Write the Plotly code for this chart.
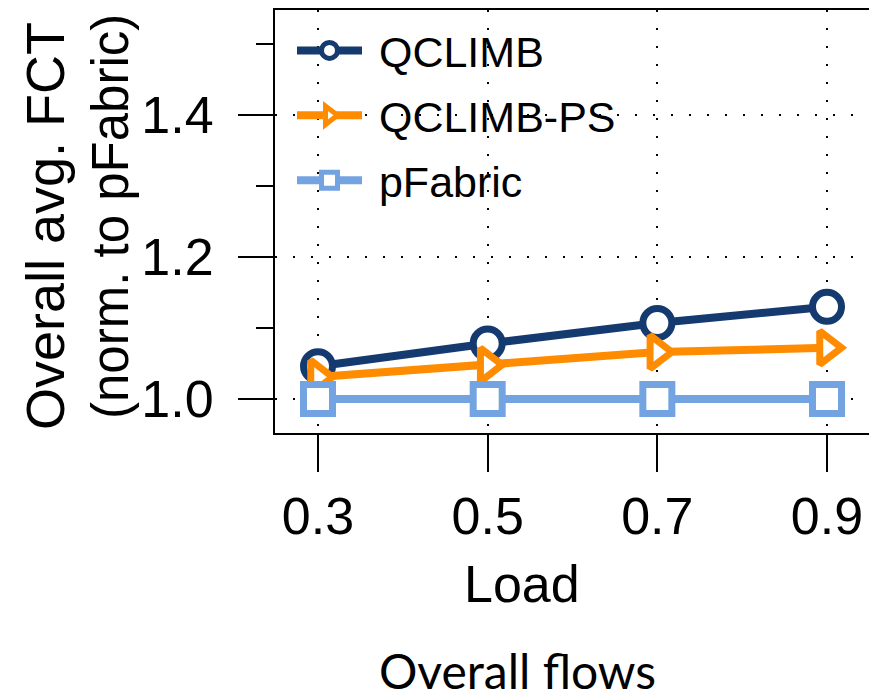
import plotly.graph_objects as go

loads = [0.3, 0.5, 0.7, 0.9]
qclimb = [1.046, 1.078, 1.107, 1.130]
qclimb_ps = [1.031, 1.048, 1.066, 1.072]
pfabric = [1.0, 1.0, 1.0, 1.0]
series_names = ["QCLIMB", "QCLIMB-PS", "pFabric"]
x_ticks = [0.3, 0.5, 0.7, 0.9]
x_tick_text = ["0.3", "0.5", "0.7", "0.9"]
y_ticks = [1.0, 1.2, 1.4]
y_tick_text = ["1.0", "1.2", "1.4"]

SANS = "Liberation Sans, Arial, Helvetica"

W, H = 869, 700
L, T, B, R = 275, 10, 267, 0
PW, PH = W - L - R, H - T - B

fig = go.Figure()
series = [
    (series_names[0], qclimb, "#143a70", "circle"),
    (series_names[1], qclimb_ps, "#ff8c00", "triangle-right"),
    (series_names[2], pfabric, "#74a3e2", "square"),
]
for name, ys, col, sym in series:
    fig.add_trace(go.Scatter(
        x=loads, y=ys, name="\u00a0" + name, mode="lines+markers",
        legendgroup=name,
        line=dict(color=col, width=8),
        marker=dict(symbol=sym, size=29, color="white", line=dict(color=col, width=7)),
        cliponaxis=False,
    ))

def px(xp):
    return (xp - L) / PW

def py(yp):
    return (H - B - yp) / PH

fig.update_layout(
    width=W, height=H,
    margin=dict(l=L, r=R, t=T, b=B, autoexpand=False),
    plot_bgcolor="white", paper_bgcolor="white",
    showlegend=True,
    legend=dict(
        x=px(292), y=py(16), xanchor="left", yanchor="top",
        bgcolor="rgba(0,0,0,0)",
        font=dict(family=SANS, size=43, color="black"),
        itemsizing="trace",
        itemwidth=65,
        tracegroupgap=6,
    ),
    xaxis=dict(
        range=[0.2493, 0.9495],
        tickvals=x_ticks, ticktext=x_tick_text,
        ticks="outside", ticklen=37, tickwidth=2, tickcolor="black",
        showline=True, linecolor="black", linewidth=2, mirror=True,
        showgrid=True, gridcolor="black", gridwidth=1.5, griddash="2px,16px",
        zeroline=False, automargin=False,
        tickfont=dict(family=SANS, size=52, color="black"),
    ),
    yaxis=dict(
        range=[0.952, 1.548],
        tickvals=y_ticks, ticktext=y_tick_text,
        ticks="outside", ticklen=35, tickwidth=2, tickcolor="black",
        ticklabelstandoff=14,
        minor=dict(dtick=0.1, tick0=1.0, ticks="outside", ticklen=17, tickwidth=2,
                   tickcolor="black", showgrid=False),
        showline=True, linecolor="black", linewidth=2, mirror=False,
        showgrid=True, gridcolor="black", gridwidth=1.5, griddash="2px,16px",
        zeroline=False, automargin=False,
        tickfont=dict(family=SANS, size=52, color="black"),
    ),
    annotations=[
        dict(text="Overall avg. FCT", x=px(45), y=py(226), xref="paper", yref="paper",
             xanchor="center", yanchor="middle", textangle=-90, showarrow=False,
             font=dict(family=SANS, size=54, color="black")),
        dict(text="(norm. to pFabric)", x=px(110), y=py(217), xref="paper", yref="paper",
             xanchor="center", yanchor="middle", textangle=-90, showarrow=False,
             font=dict(family=SANS, size=51, color="black")),
        dict(text="Load", x=px(522), y=py(584), xref="paper", yref="paper",
             xanchor="center", yanchor="middle", showarrow=False,
             font=dict(family=SANS, size=52, color="black")),
        dict(text="Overall flows", x=px(517), y=py(670), xref="paper", yref="paper",
             xanchor="center", yanchor="middle", showarrow=False,
             font=dict(family="Lato, Open Sans, sans-serif", size=48, color="black")),
    ],
)

fig.write_html("out.html")
